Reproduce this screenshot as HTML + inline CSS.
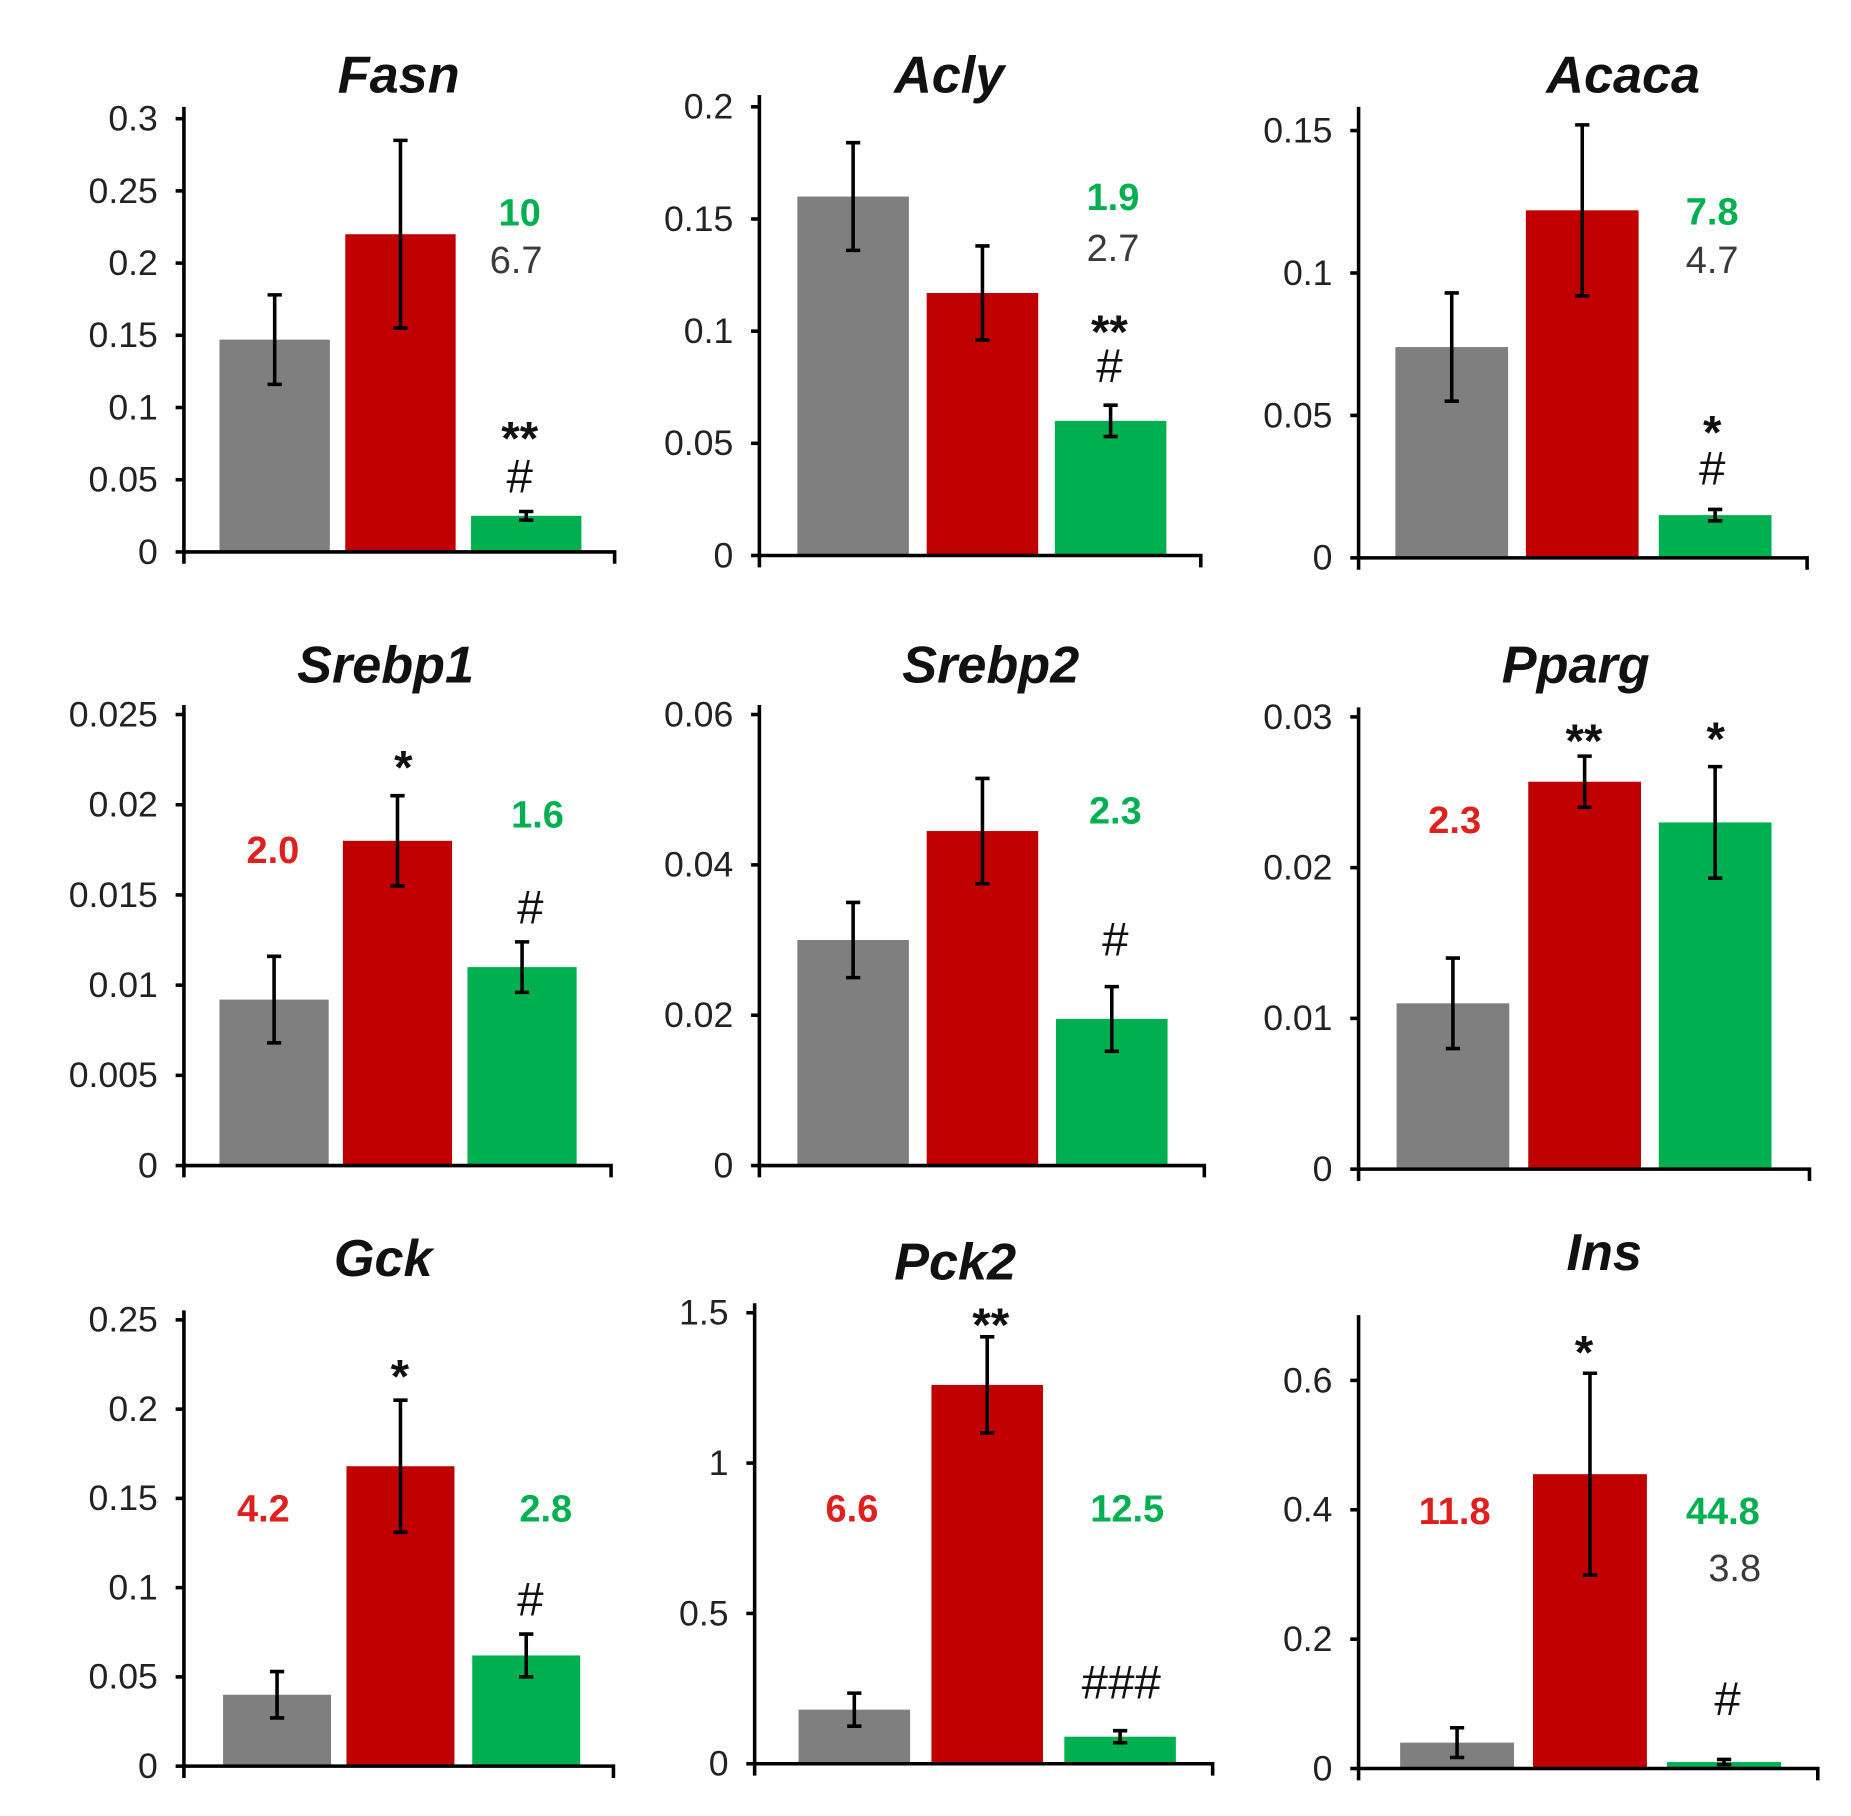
<!DOCTYPE html>
<html><head><meta charset="utf-8"><style>
html,body{margin:0;padding:0;background:#fff;}
svg{display:block;}
text{font-family:"Liberation Sans",Arial,sans-serif;}
</style></head><body>
<svg id="chart" width="1851" height="1816" viewBox="0 0 1560 1530" preserveAspectRatio="none" xmlns="http://www.w3.org/2000/svg"></svg>
<script>
// ---- data ----
const genes = ["Fasn","Acly","Acaca","Srebp1","Srebp2","Pparg","Gck","Pck2","Ins"];
const groups = ["control","model","treated"];
const tickLabels = [
  ["0","0.05","0.1","0.15","0.2","0.25","0.3"],
  ["0","0.05","0.1","0.15","0.2"],
  ["0","0.05","0.1","0.15"],
  ["0","0.005","0.01","0.015","0.02","0.025"],
  ["0","0.02","0.04","0.06"],
  ["0","0.01","0.02","0.03"],
  ["0","0.05","0.1","0.15","0.2","0.25"],
  ["0","0.5","1","1.5"],
  ["0","0.2","0.4","0.6"]
];
const meansControl = [0.147,0.160,0.074,0.0092,0.030,0.011,0.040,0.18,0.040];
const meansModel   = [0.220,0.117,0.122,0.0180,0.0445,0.0257,0.168,1.26,0.455];
const meansTreated = [0.025,0.060,0.015,0.0110,0.0195,0.023,0.062,0.09,0.010];
const errControl = [0.031,0.024,0.019,0.0024,0.005,0.003,0.013,0.055,0.023];
const errModel   = [0.065,0.021,0.030,0.0025,0.007,0.0017,0.037,0.16,0.156];
const errTreated = [0.003,0.007,0.002,0.0014,0.0043,0.0037,0.012,0.02,0.004];
// annotations: [gene index, bar index(0-2), text, kind]
const annotations = [
 [0,2,"10","g"],[0,2,"6.7","k"],[0,2,"**","s"],[0,2,"#","s"],
 [1,2,"1.9","g"],[1,2,"2.7","k"],[1,2,"**","s"],[1,2,"#","s"],
 [2,2,"7.8","g"],[2,2,"4.7","k"],[2,2,"*","s"],[2,2,"#","s"],
 [3,0,"2.0","r"],[3,1,"*","s"],[3,2,"1.6","g"],[3,2,"#","s"],
 [4,2,"2.3","g"],[4,2,"#","s"],
 [5,0,"2.3","r"],[5,1,"**","s"],[5,2,"*","s"],
 [6,0,"4.2","r"],[6,1,"*","s"],[6,2,"2.8","g"],[6,2,"#","s"],
 [7,0,"6.6","r"],[7,1,"**","s"],[7,2,"12.5","g"],[7,2,"###","s"],
 [8,0,"11.8","r"],[8,1,"*","s"],[8,2,"44.8","g"],[8,2,"3.8","k"],[8,2,"#","s"]
];
// ---- layout (pixels, displayed coordinate space); yt = pixel of top tick, top = axis line top ----
const layout = [
 {ax:155,y0:465,yt:100,top:90,xe:518,bars:[185,291,397],bw:93,tx:336,ty:78,ann:[[438,190],[435,230],[438,375],[438,415]]},
 {ax:640,y0:468,yt:90,top:80,xe:1012,bars:[672,781,889],bw:94,tx:800,ty:78,ann:[[938,177],[938,220],[935,285],[935,322]]},
 {ax:1145,y0:470,yt:110,top:90,xe:1523,bars:[1176,1286,1398],bw:95,tx:1368,ty:78,ann:[[1443,189],[1443,230],[1443,370],[1443,408]]},
 {ax:155,y0:982,yt:602,top:594,xe:515,bars:[185,289,394],bw:92,tx:325,ty:575,ann:[[230,727],[340,652],[453,697],[447,778]]},
 {ax:640,y0:982,yt:602,top:594,xe:1015,bars:[672,781,890],bw:94,tx:835,ty:575,ann:[[940,694],[940,805]]},
 {ax:1145,y0:985,yt:604,top:596,xe:1525,bars:[1177,1288,1398],bw:95,tx:1328,ty:575,ann:[[1226,702],[1335,630],[1446,628]]},
 {ax:155,y0:1488,yt:1112,top:1104,xe:517,bars:[188,292,398],bw:91,tx:323,ty:1075,ann:[[222,1282],[337,1165],[460,1282],[447,1361]]},
 {ax:636,y0:1486,yt:1106,top:1098,xe:1022,bars:[673,785,897],bw:94,tx:805,ty:1078,ann:[[718,1282],[835,1122],[950,1282],[945,1431]]},
 {ax:1145,y0:1490,yt:1163,top:1108,xe:1532,bars:[1180,1292,1405],bw:96,tx:1352,ty:1070,ann:[[1226,1284],[1335,1145],[1452,1284],[1462,1332],[1456,1445]]}
];
const fills = ["#7f7f7f","#c00000","#00b050"];
const annColor = {g:"#00b050",r:"#e0201e",k:"#3a3a3a",s:"#111"};
const NS="http://www.w3.org/2000/svg";
const svg=document.getElementById("chart");
function mk(tag,attrs,parent){const e=document.createElementNS(NS,tag);for(const k in attrs)e.setAttribute(k,attrs[k]);(parent||svg).appendChild(e);return e;}

genes.forEach((gene,i)=>{
  const L=layout[i];
  const g=mk("g",{});
  
  
  const topVal=parseFloat(tickLabels[i][tickLabels[i].length-1]);
  const yScale=v=>L.y0-(v/topVal)*(L.y0-L.yt);
  const t=mk("text",{x:L.tx,y:L.ty,"text-anchor":"middle","font-size":44,"font-weight":"bold","font-style":"italic",fill:"#111"},g);
  t.textContent=gene;
  
  
  const means=[meansControl[i],meansModel[i],meansTreated[i]];
  const errs=[errControl[i],errModel[i],errTreated[i]];
  means.forEach((m,b)=>{
    const x=L.bars[b];
    const r=mk("rect",{x:x,y:yScale(m),width:L.bw,height:L.y0-yScale(m),fill:fills[b]},g);
    
    
    const cx=x+L.bw/2,yh=yScale(m+errs[b]),yl=yScale(m-errs[b]);
    const eb=mk("path",{d:`M${cx},${yl}V${yh}M${cx-6},${yh}H${cx+6}M${cx-6},${yl}H${cx+6}`,stroke:"#000","stroke-width":3,fill:"none"},g);
    
    
  });
  const ya=mk("line",{x1:L.ax,y1:L.top,x2:L.ax,y2:L.y0+10,stroke:"#000","stroke-width":3},g);
  
  
  const xa=mk("path",{d:`M${L.ax},${L.y0}H${L.xe}V${L.y0+10}`,stroke:"#000","stroke-width":3,fill:"none"},g);
  
  
  tickLabels[i].forEach(lab=>{
    const y=yScale(parseFloat(lab));
    mk("line",{x1:L.ax-7,y1:y,x2:L.ax,y2:y,stroke:"#000","stroke-width":3},g);
    const tt=mk("text",{x:L.ax-22,y:y+10,"text-anchor":"end","font-size":30,fill:"#222"},g);
    tt.textContent=lab;
    
    
  });
});
const counters={};
annotations.forEach(a=>{
  const [gi,b,txt,kind]=a;
  counters[gi]=(counters[gi]||0);
  const pos=layout[gi].ann[counters[gi]++];
  const isStar=kind==="s";
  const t=mk("text",{x:pos[0],y:pos[1]+(isStar&&txt.indexOf("*")>=0?8:0),"text-anchor":"middle","font-size":isStar?40:32,"font-weight":(kind==="k"||txt.indexOf("#")>=0)?"normal":"bold",fill:annColor[kind]});
  t.textContent=txt;
  
  
});
</script>
</body></html>
